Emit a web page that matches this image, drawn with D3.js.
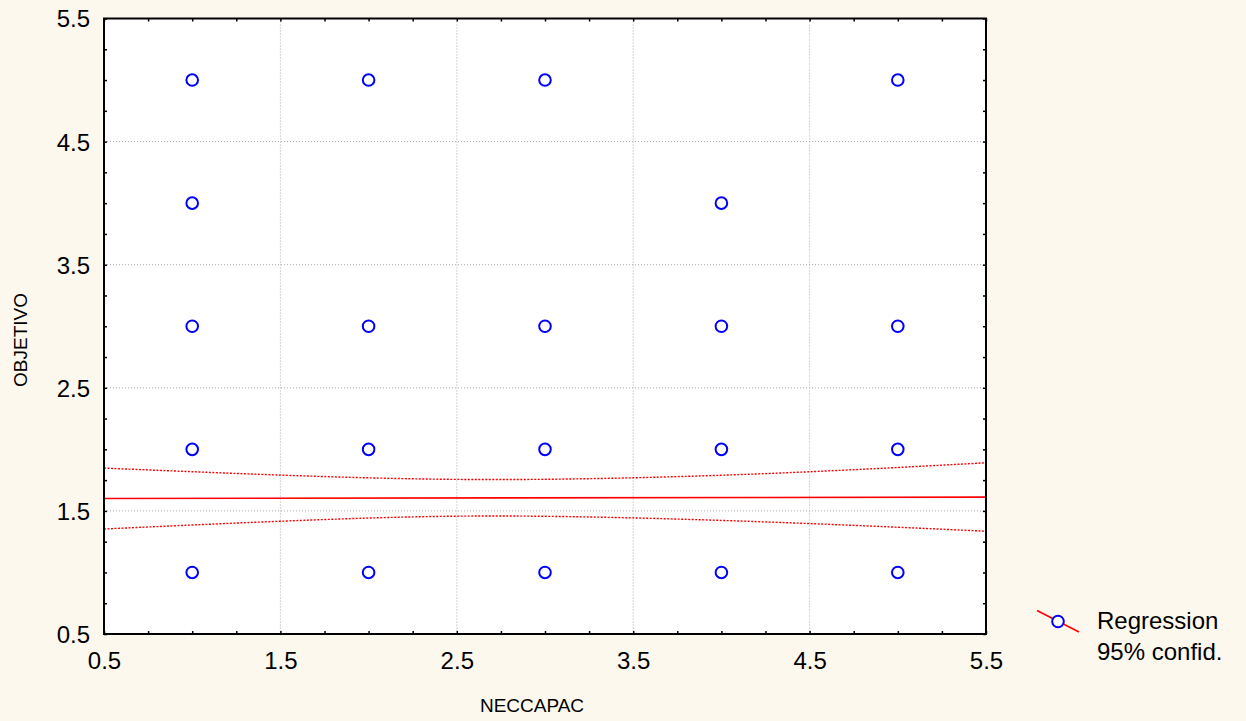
<!DOCTYPE html>
<html>
<head>
<meta charset="utf-8">
<script src="https://cdn.jsdelivr.net/npm/d3@7"></script>
<style>
  html, body { margin: 0; padding: 0; background: #fdf8ed; }
  svg { display: block; }
  text { font-family: "Liberation Sans", Arial, sans-serif; fill: #000; }
</style>
</head>
<body>
<svg id="chart" width="1246" height="721"></svg>
<script>
// ---- data ----
const pointsX = [1, 1, 1, 1, 1, 2, 2, 2, 2, 3, 3, 3, 3, 4, 4, 4, 4, 5, 5, 5, 5];
const pointsY = [5, 4, 3, 2, 1, 5, 3, 2, 1, 5, 3, 2, 1, 4, 3, 2, 1, 5, 3, 2, 1];
const lineX = [0.5, 5.5];
const lineY = [1.601, 1.612];
const bandX = [0.5, 1.5, 2.5, 3.5, 4.5, 5.5];
const bandUpper = [1.848, 1.791, 1.756, 1.769, 1.818, 1.891];
const bandLower = [1.353, 1.416, 1.457, 1.443, 1.397, 1.335];
const tickLabels = [0.5, 1.5, 2.5, 3.5, 4.5, 5.5];
const minorTicks = d3.range(0.5, 5.5001, 0.25);
const xTitle = "NECCAPAC";
const yTitle = "OBJETIVO";
const legendLabels = ["Regression", "95% confid."];

// ---- layout ----
const L = 104, R = 986, T = 18.5, B = 634;
const svg = d3.select("#chart");
const x = d3.scaleLinear().domain([0.5, 5.5]).range([L, R]);
const y = d3.scaleLinear().domain([0.5, 5.5]).range([B, T]);

// plot background
svg.append("rect").attr("x", L).attr("y", T).attr("width", R - L).attr("height", B - T).attr("fill", "#fff");

// gridlines
const grid = svg.append("g").attr("stroke", "#ababab").attr("stroke-width", 1).attr("stroke-dasharray", "1,2");
tickLabels.slice(1, -1).forEach(v => {
  grid.append("line").attr("x1", x(v)).attr("x2", x(v)).attr("y1", T).attr("y2", B);
  grid.append("line").attr("x1", L).attr("x2", R).attr("y1", y(v)).attr("y2", y(v));
});

// clip
svg.append("clipPath").attr("id", "clip").append("rect")
  .attr("x", L).attr("y", T).attr("width", R - L).attr("height", B - T);
const plot = svg.append("g").attr("clip-path", "url(#clip)");

// confidence band
const bandLine = d3.line().x(d => x(d[0])).y(d => y(d[1])).curve(d3.curveNatural);
[bandUpper, bandLower].forEach(arr => {
  plot.append("path")
    .attr("d", bandLine(bandX.map((v, i) => [v, arr[i]])))
    .attr("fill", "none").attr("stroke", "#f00").attr("stroke-width", 1.4)
    .attr("stroke-dasharray", "2,1.5");
});
// regression line
plot.append("path")
  .attr("d", d3.line().x(d => x(d[0])).y(d => y(d[1]))(lineX.map((v, i) => [v, lineY[i]])))
  .attr("fill", "none").attr("stroke", "#f00").attr("stroke-width", 1.6);

// points
plot.selectAll("circle.pt").data(pointsX.map((v, i) => [v, pointsY[i]])).enter()
  .append("circle").attr("class", "pt")
  .attr("cx", d => x(d[0])).attr("cy", d => y(d[1])).attr("r", 5.8)
  .attr("fill", "none").attr("stroke", "#0000ff").attr("stroke-width", 2);

// axes ticks (inward)
const tickLen = 3;
const axB = svg.append("g").attr("transform", `translate(0,${B})`)
  .call(d3.axisBottom(x).tickValues(minorTicks).tickSize(-tickLen).tickFormat(""));
const axT = svg.append("g").attr("transform", `translate(0,${T})`)
  .call(d3.axisTop(x).tickValues(minorTicks).tickSize(-tickLen).tickFormat(""));
const axL = svg.append("g").attr("transform", `translate(${L},0)`)
  .call(d3.axisLeft(y).tickValues(minorTicks).tickSize(-tickLen).tickFormat(""));
const axR = svg.append("g").attr("transform", `translate(${R},0)`)
  .call(d3.axisRight(y).tickValues(minorTicks).tickSize(-tickLen).tickFormat(""));
[axB, axT, axL, axR].forEach(a => {
  a.select(".domain").remove();
  a.selectAll(".tick line").attr("stroke", "#000").attr("stroke-width", 1.5);
});

// frame
svg.append("rect").attr("x", L).attr("y", T).attr("width", R - L).attr("height", B - T)
  .attr("fill", "none").attr("stroke", "#000").attr("stroke-width", 2);

// tick labels
const xl = svg.append("g").attr("transform", `translate(0,${B})`)
  .call(d3.axisBottom(x).tickValues(tickLabels).tickSize(0).tickFormat(d3.format(".1f")));
const yl = svg.append("g").attr("transform", `translate(${L},0)`)
  .call(d3.axisLeft(y).tickValues(tickLabels).tickSize(0).tickPadding(14).tickFormat(d3.format(".1f")));
[xl, yl].forEach(a => {
  a.select(".domain").remove();
  a.selectAll("text").attr("font-family", "'Liberation Sans', Arial, sans-serif")
    .attr("font-size", 24).attr("fill", "#000");
});
xl.selectAll("text").attr("dy", null).attr("y", 35);
yl.selectAll("text").attr("dy", "0.35em");

// axis titles
svg.append("text").attr("x", (L + R) / 2 - 13).attr("y", 712).attr("text-anchor", "middle")
  .attr("font-size", 19).text(xTitle);
svg.append("text").attr("transform", "translate(27,340) rotate(-90)").attr("text-anchor", "middle")
  .attr("font-size", 19).text(yTitle);

// legend
const lg = svg.append("g");
lg.append("line").attr("x1", 1037).attr("y1", 610.5).attr("x2", 1079).attr("y2", 632)
  .attr("stroke", "#f00").attr("stroke-width", 1.6);
lg.append("circle").attr("cx", 1058).attr("cy", 621.5).attr("r", 5.8)
  .attr("fill", "#fff").attr("stroke", "#0000ff").attr("stroke-width", 2);
lg.selectAll("text.lab").data(legendLabels).enter().append("text").attr("class", "lab")
  .attr("x", 1097).attr("y", (d, i) => 629 + i * 31).attr("font-size", 24).text(d => d);
</script>
</body>
</html>
